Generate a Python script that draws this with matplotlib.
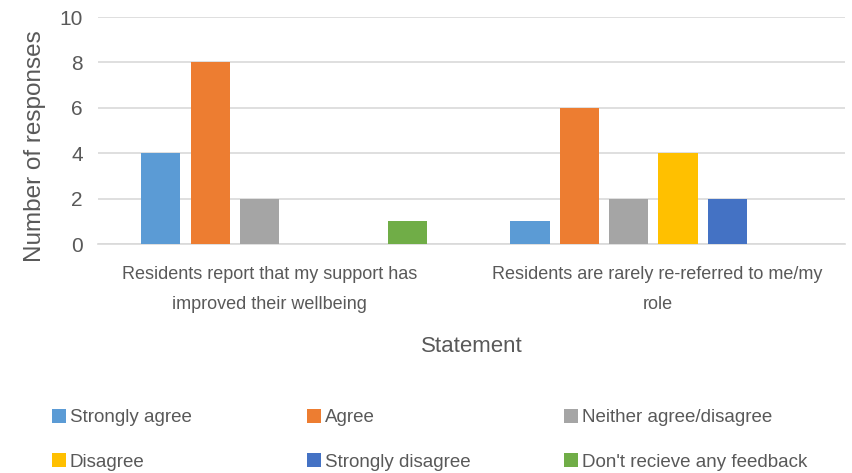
import numpy as np
import matplotlib.pyplot as plt

plt.rcParams['font.family'] = ['Liberation Sans', 'DejaVu Sans']

statements = ['Residents report that my support has\nimproved their wellbeing',
              'Residents are rarely re-referred to me/my\nrole']
responses = ['Strongly agree', 'Agree', 'Neither agree/disagree',
             'Disagree', 'Strongly disagree', "Don't recieve any feedback"]
counts = [
    [4, 1],
    [8, 6],
    [2, 2],
    [0, 4],
    [0, 2],
    [1, 0],
]
colors = ['#5B9BD5', '#ED7D31', '#A5A5A5', '#FFC000', '#4472C4', '#70AD47']

fig = plt.figure(figsize=(8.53, 4.73), dpi=100)
ax = fig.add_axes([0.115, 0.484, 0.876, 0.48])

x = np.arange(len(statements))
step = 0.1336
width = 0.106
bars = []
for i, (lab, vals) in enumerate(zip(responses, counts)):
    bars.append(ax.bar(x + (i - 2.5) * step, vals, width, color=colors[i],
                       label=lab, zorder=3))

ax.set_xlim(-0.504, 1.52)
ax.set_ylim(0, 10)
ax.set_yticks([0, 2, 4, 6, 8, 10])
# wrapped labels sit a little off-centre in the original
ax.set_xticks(x + np.array([-0.04, 0.011]))
ax.set_xticklabels(statements, fontsize=13, color='#595959', linespacing=1.95)
ax.tick_params(axis='y', labelsize=15, labelcolor='#595959', length=0, pad=11)
ax.tick_params(axis='x', length=0, pad=16)
ax.grid(axis='y', color='#D9D9D9', linewidth=1.2, zorder=0)
for s in ['top', 'right', 'left']:
    ax.spines[s].set_visible(False)
ax.spines['bottom'].set_color('#D9D9D9')
ax.spines['bottom'].set_linewidth(1.2)
ax.set_ylabel('Number of responses', fontsize=17.5, color='#595959')
ax.yaxis.set_label_coords(-0.07, 0.432)
ax.set_xlabel('Statement', fontsize=16, color='#595959', labelpad=17)

# one legend per column so the columns sit where the original has them
col_x = [0.061, 0.360, 0.661]
for c in range(3):
    fig.legend([bars[c], bars[c + 3]], [responses[c], responses[c + 3]],
               loc='center left', bbox_to_anchor=(col_x[c], 0.07), frameon=False,
               fontsize=13.5, labelcolor='#595959', handlelength=0.75,
               handleheight=0.75, handletextpad=0.2, labelspacing=1.45,
               borderpad=0, borderaxespad=0)

fig.savefig('out.png', dpi=100)
